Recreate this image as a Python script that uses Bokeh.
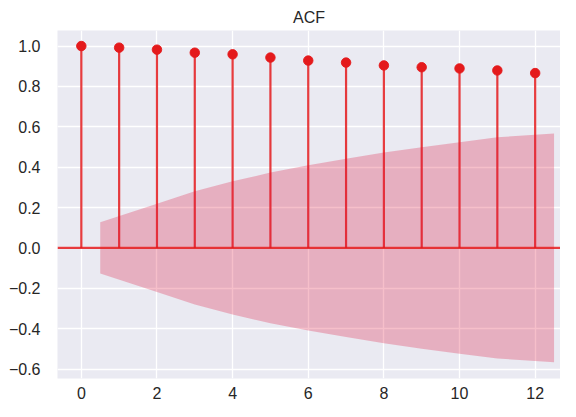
from bokeh.plotting import figure
from bokeh.models import Range1d, FixedTicker, CustomJSTickFormatter, Span, ColumnDataSource
from bokeh.embed import file_html
from bokeh.resources import INLINE

# Data
lags = [0, 1, 2, 3, 4, 5, 6, 7, 8, 9, 10, 11, 12]
acf_values = [1.0, 0.992, 0.982, 0.967, 0.959, 0.943, 0.928, 0.918, 0.904, 0.895, 0.889, 0.879, 0.866]
band_x = [0.5, 2, 3, 4, 5, 6, 7, 8, 9, 10, 11, 12.5]
band_upper = [0.127, 0.219, 0.281, 0.330, 0.373, 0.409, 0.442, 0.472, 0.499, 0.524, 0.548, 0.567]
band_lower = [-0.127, -0.219, -0.281, -0.330, -0.373, -0.409, -0.442, -0.472, -0.499, -0.524, -0.548, -0.567]
x_ticks = [0, 2, 4, 6, 8, 10, 12]
y_ticks = [-0.6, -0.4, -0.2, 0.0, 0.2, 0.4, 0.6, 0.8, 1.0]

RED = "#E41A1C"
FONT = "Liberation Sans"

p = figure(width=560, height=401, output_backend="svg", toolbar_location=None,
           x_range=Range1d(-0.63, 12.67), y_range=Range1d(-0.647, 1.077),
           min_border_left=57, min_border_right=0, min_border_top=30, min_border_bottom=0,
           title="ACF")

p.background_fill_color = "#EAEAF2"
p.border_fill_color = "white"
p.outline_line_color = None

p.title.align = "center"
p.title.text_font = FONT
p.title.text_font_size = "16px"
p.title.text_font_style = "normal"
p.title.text_color = "#262626"

for ax in (p.xaxis, p.yaxis):
    ax.axis_line_color = None
    ax.major_tick_line_color = None
    ax.minor_tick_line_color = None
    ax.major_tick_out = 0
    ax.major_tick_in = 0
    ax.minor_tick_out = 0
    ax.minor_tick_in = 0
    ax.major_label_text_font = FONT
    ax.major_label_text_font_size = "16px"
    ax.major_label_text_color = "#262626"

p.xaxis.ticker = FixedTicker(ticks=x_ticks)
p.yaxis.ticker = FixedTicker(ticks=y_ticks)
p.xaxis.major_label_standoff = 8
p.yaxis.major_label_standoff = 17
p.yaxis.formatter = CustomJSTickFormatter(code="return tick.toFixed(1).replace('-', '\u2212');")

p.xgrid.ticker = FixedTicker(ticks=x_ticks)
p.ygrid.ticker = FixedTicker(ticks=y_ticks)
for g in (p.xgrid, p.ygrid):
    g.grid_line_color = "white"
    g.grid_line_width = 1.3

src = ColumnDataSource(dict(x=lags, y=acf_values, y0=[0] * len(lags)))
p.segment(x0="x", y0="y0", x1="x", y1="y", source=src, line_color=RED, line_width=2.2, line_alpha=0.85)
p.add_layout(Span(location=0, dimension="width", line_color=RED, line_width=2.2, line_alpha=0.85))
p.scatter(x="x", y="y", source=src, size=9.5, fill_color=RED, line_color=RED, line_alpha=0.9)

p.varea(x=band_x, y1=band_lower, y2=band_upper, fill_color="#DC143C", fill_alpha=0.27)

open("out.html", "w").write(file_html(p, INLINE))
